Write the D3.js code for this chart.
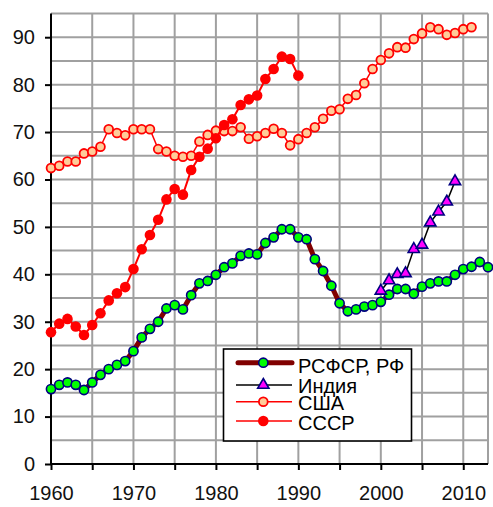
<!DOCTYPE html>
<html><head><meta charset="utf-8">
<script src="https://cdn.jsdelivr.net/npm/d3@7"></script>
<style>
html,body{margin:0;padding:0;background:#fff;}
svg text{font-family:"Liberation Sans",Arial,sans-serif;}
</style></head>
<body>
<svg id="chart" width="493" height="507"></svg>
<script>
// ---- data ----
const years = d3.range(1960, 2014);
const russiaValues = [15.8,16.7,17.2,16.7,15.6,17.2,18.8,20.0,20.9,21.7,
  23.8,26.7,28.5,30.0,32.8,33.5,32.6,35.6,38.1,38.6,
  39.9,41.5,42.3,43.9,44.4,44.2,46.6,47.8,49.5,49.5,
  47.8,47.4,43.2,40.7,37.6,33.9,32.2,32.6,33.2,33.5,
  34.2,35.7,36.9,36.9,35.9,37.4,38.1,38.5,38.5,39.9,
  41.1,41.6,42.6,41.5];
const russiaStart = 1960;
const indiaValues = [36.5,38.7,40.0,40.2,45.3,46.2,50.9,53.2,55.3,59.6];
const indiaStart = 2000;
const usaValues = [62.4,62.9,63.8,63.8,65.5,65.9,66.9,70.6,69.8,69.3,
  70.6,70.6,70.6,66.4,65.9,65.0,64.8,65.0,68.0,69.4,
  70.3,70.2,70.2,71.0,68.6,69.1,69.8,70.7,69.8,67.2,
  68.5,69.8,71.0,72.8,74.5,74.8,77.0,77.8,80.3,83.3,
  85.2,86.6,87.9,87.8,89.6,90.8,92.1,91.7,90.5,90.9,
  91.7,92.1];
const usaStart = 1960;
const ussrValues = [27.8,29.6,30.6,29.0,27.2,29.3,31.8,34.5,36.0,37.3,
  41.1,45.3,48.3,51.5,55.8,58.0,56.8,62.0,64.8,66.5,
  68.7,71.5,72.7,75.7,76.9,77.7,81.2,83.3,85.9,85.4,
  81.9];
const ussrStart = 1960;
const legendLabels = ["РСФСР, РФ", "Индия", "США", "СССР"];
const xTicks = d3.range(1960, 2011, 5);
const xLabelTicks = [1960,1970,1980,1990,2000,2010];
const yTicks = d3.range(0, 91, 10);
const yGrid = d3.range(5, 96, 5);

const toPts = (vals, start) => vals.map((v,i)=>({year:start+i, value:v}));

// ---- scales ----
const svg = d3.select("#chart");
const L = 51, R = 488, T = 13.5, B = 464;
const x = d3.scaleLinear().domain([1960, 2013]).range([L, R]);
const y = d3.scaleLinear().domain([0, 95]).range([B, T]);

// grid
const grid = svg.append("g");
grid.selectAll("line.h").data(yGrid).join("line")
  .attr("x1", L).attr("x2", R).attr("y1", d=>y(d)).attr("y2", d=>y(d))
  .attr("stroke", "#a0a0a0").attr("stroke-width", 2);
grid.selectAll("line.v").data(xTicks.filter(d=>d>1960)).join("line")
  .attr("x1", d=>x(d)).attr("x2", d=>x(d)).attr("y1", T).attr("y2", B)
  .attr("stroke", "#a0a0a0").attr("stroke-width", 2);
grid.append("line").attr("x1", R).attr("x2", R).attr("y1", T).attr("y2", B)
  .attr("stroke", "#a0a0a0").attr("stroke-width", 2);

// axes
const xAxis = svg.append("g").attr("transform", `translate(0,${B})`)
  .call(d3.axisBottom(x).tickValues(xTicks).tickSize(6).tickPadding(16)
    .tickFormat(d => xLabelTicks.includes(d) ? String(d) : ""));
const yAxis = svg.append("g").attr("transform", `translate(${L},0)`)
  .call(d3.axisLeft(y).tickValues(yTicks).tickSize(6).tickPadding(10));
[xAxis, yAxis].forEach(a => {
  a.select(".domain").attr("stroke", "#000").attr("stroke-width", 2);
  a.selectAll(".tick line").attr("stroke", "#000").attr("stroke-width", 2);
  a.selectAll(".tick text").attr("fill", "#111").style("font-size", "20px");
});
xAxis.select(".domain").attr("d", `M${L},0H${R}`);
yAxis.select(".domain").attr("d", `M0,${B}V${T}`);

const line = d3.line().x(d=>x(d.year)).y(d=>y(d.value));

// Russia
const ru = toPts(russiaValues, russiaStart);
svg.append("path").datum(ru).attr("d", line).attr("fill","none")
  .attr("stroke","#800000").attr("stroke-width",5).attr("stroke-linejoin","round");
svg.append("g").selectAll("circle").data(ru).join("circle")
  .attr("cx", d=>x(d.year)).attr("cy", d=>y(d.value)).attr("r", 4.6)
  .attr("fill","#00ff00").attr("stroke","#000080").attr("stroke-width",1.6);

// India
const ind = toPts(indiaValues, indiaStart);
svg.append("path").datum(ind).attr("d", line).attr("fill","none")
  .attr("stroke","#000").attr("stroke-width",1.5);
const tri = d3.symbol().type(d3.symbolTriangle).size(55);
svg.append("g").selectAll("path").data(ind).join("path")
  .attr("d", tri).attr("transform", d=>`translate(${x(d.year)},${y(d.value)})`)
  .attr("fill","#ff00ff").attr("stroke","#000080").attr("stroke-width",1.6);

// USA
const us = toPts(usaValues, usaStart);
svg.append("path").datum(us).attr("d", line).attr("fill","none")
  .attr("stroke","#ff0000").attr("stroke-width",1.5);
svg.append("g").selectAll("circle").data(us).join("circle")
  .attr("cx", d=>x(d.year)).attr("cy", d=>y(d.value)).attr("r", 4.4)
  .attr("fill","#ffcc99").attr("stroke","#ff0000").attr("stroke-width",1.8);

// USSR
const su = toPts(ussrValues, ussrStart);
svg.append("path").datum(su).attr("d", line).attr("fill","none")
  .attr("stroke","#ff0000").attr("stroke-width",2);
svg.append("g").selectAll("circle").data(su).join("circle")
  .attr("cx", d=>x(d.year)).attr("cy", d=>y(d.value)).attr("r", 5.3)
  .attr("fill","#ff0000");

// legend
const lg = svg.append("g");
lg.append("rect").attr("x",223.5).attr("y",349).attr("width",188).attr("height",92)
  .attr("fill","#fff").attr("stroke","#000").attr("stroke-width",1.6);
const rowsY = [362.7, 385, 401.7, 421];
const lx1 = 236, lx2 = 292, mx = 263.3;
lg.append("line").attr("x1",lx1+2).attr("x2",lx2).attr("y1",rowsY[0]).attr("y2",rowsY[0])
  .attr("stroke","#800000").attr("stroke-width",5).attr("stroke-linecap","round");
lg.append("circle").attr("cx",mx).attr("cy",rowsY[0]).attr("r",4.6)
  .attr("fill","#00ff00").attr("stroke","#000080").attr("stroke-width",1.6);
lg.append("line").attr("x1",lx1).attr("x2",lx2).attr("y1",rowsY[1]).attr("y2",rowsY[1])
  .attr("stroke","#000").attr("stroke-width",1.5);
lg.append("path").attr("d",tri).attr("transform",`translate(${mx},${rowsY[1]})`)
  .attr("fill","#ff00ff").attr("stroke","#000080").attr("stroke-width",1.6);
lg.append("line").attr("x1",lx1).attr("x2",lx2).attr("y1",rowsY[2]).attr("y2",rowsY[2])
  .attr("stroke","#ff0000").attr("stroke-width",1.5);
lg.append("circle").attr("cx",mx).attr("cy",rowsY[2]).attr("r",4.4)
  .attr("fill","#ffcc99").attr("stroke","#ff0000").attr("stroke-width",1.8);
lg.append("line").attr("x1",lx1).attr("x2",lx2).attr("y1",rowsY[3]).attr("y2",rowsY[3])
  .attr("stroke","#ff0000").attr("stroke-width",1.5);
lg.append("circle").attr("cx",mx).attr("cy",rowsY[3]).attr("r",5.3).attr("fill","#ff0000");
const baselines = [373, 392.7, 410, 430];
lg.selectAll("text").data(legendLabels).join("text")
  .attr("x",298).attr("y",(d,i)=>baselines[i]).text(d=>d)
  .style("font-size","20px").attr("fill","#000");
</script>
</body></html>
